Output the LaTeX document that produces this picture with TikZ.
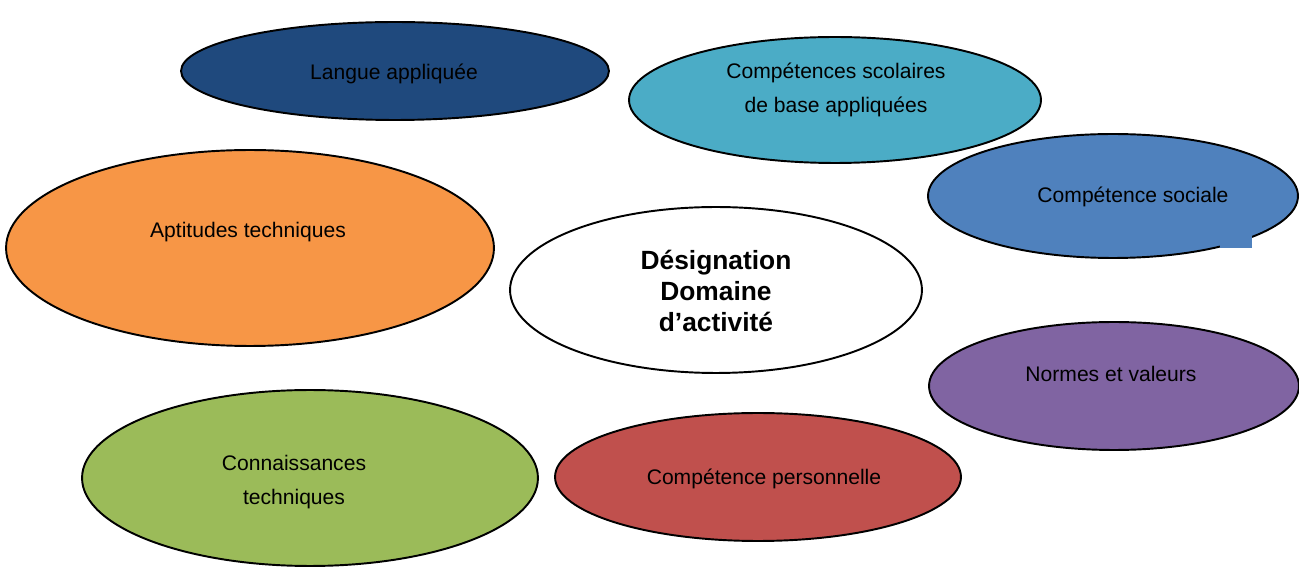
\documentclass[tikz,border=0pt]{standalone}
\usepackage{fontspec}
\setmainfont{Liberation Sans}
\usetikzlibrary{shapes.geometric}
\definecolor{bleufonce}{HTML}{1F497D}
\definecolor{turquoise}{HTML}{4BACC6}
\definecolor{bleu}{HTML}{4F81BD}
\definecolor{orange}{HTML}{F79646}
\definecolor{violet}{HTML}{8064A2}
\definecolor{vert}{HTML}{9BBB59}
\definecolor{rouge}{HTML}{C0504D}

\begin{document}
\begin{tikzpicture}[x=0.02cm,y=-0.02cm]
        %
        % `blob' is used for the coloured ellipses.
        % `txt' is used for the labels inside them.
        % `titre' is used for the centre label.
        \tikzstyle{blob} = [draw=black,line width=1.1pt,shape=ellipse,inner sep=0pt]
        \tikzstyle{txt} = [align=center,font=\fontsize{12}{19.3}\selectfont]
        \tikzstyle{titre} = [align=center,font=\fontsize{15}{17.9}\selectfont\bfseries]
        %
        \useasboundingbox (0,0) rectangle (1299,567);
        %
        % Top row
        \node[blob,fill=bleufonce,minimum width=8.56cm,minimum height=1.96cm] (langue) at (395,71) {};
        \node[txt] (tlangue) at (394,74) {Langue appliquée};
        \node[blob,fill=bleu,minimum width=7.40cm,minimum height=2.48cm] (sociale) at (1113,196) {};
        \node[txt] (tsociale) at (1133,197) {Compétence sociale};
        \fill[bleu] (1220,226) rectangle (1252,248);
        \node[blob,fill=turquoise,minimum width=8.24cm,minimum height=2.52cm] (scolaires) at (835,100) {};
        \node[txt] (tscolaires) at (836,90) {Compétences scolaires\\de base appliquées};
        %
        % Middle row
        \node[blob,fill=orange,minimum width=9.76cm,minimum height=3.92cm] (aptitudes) at (250,248) {};
        \node[txt] (taptitudes) at (248,232) {Aptitudes techniques};
        \node[blob,fill=white,minimum width=8.24cm,minimum height=3.32cm] (domaine) at (716,290) {};
        \node[titre] (tdomaine) at (716,291) {Désignation\\Domaine\\d’activité};
        \node[blob,fill=violet,minimum width=7.40cm,minimum height=2.56cm] (normes) at (1114,386) {};
        \node[txt] (tnormes) at (1111,374) {Normes et valeurs};
        %
        % Bottom row
        \node[blob,fill=vert,minimum width=9.12cm,minimum height=3.52cm] (connaissances) at (310,478) {};
        \node[txt] (tconnaissances) at (294,482) {Connaissances\\techniques};
        \node[blob,fill=rouge,minimum width=8.12cm,minimum height=2.56cm] (personnelle) at (758,477) {};
        \node[txt] (tpersonnelle) at (764,479) {Compétence personnelle};
        %
\end{tikzpicture}
\end{document}
